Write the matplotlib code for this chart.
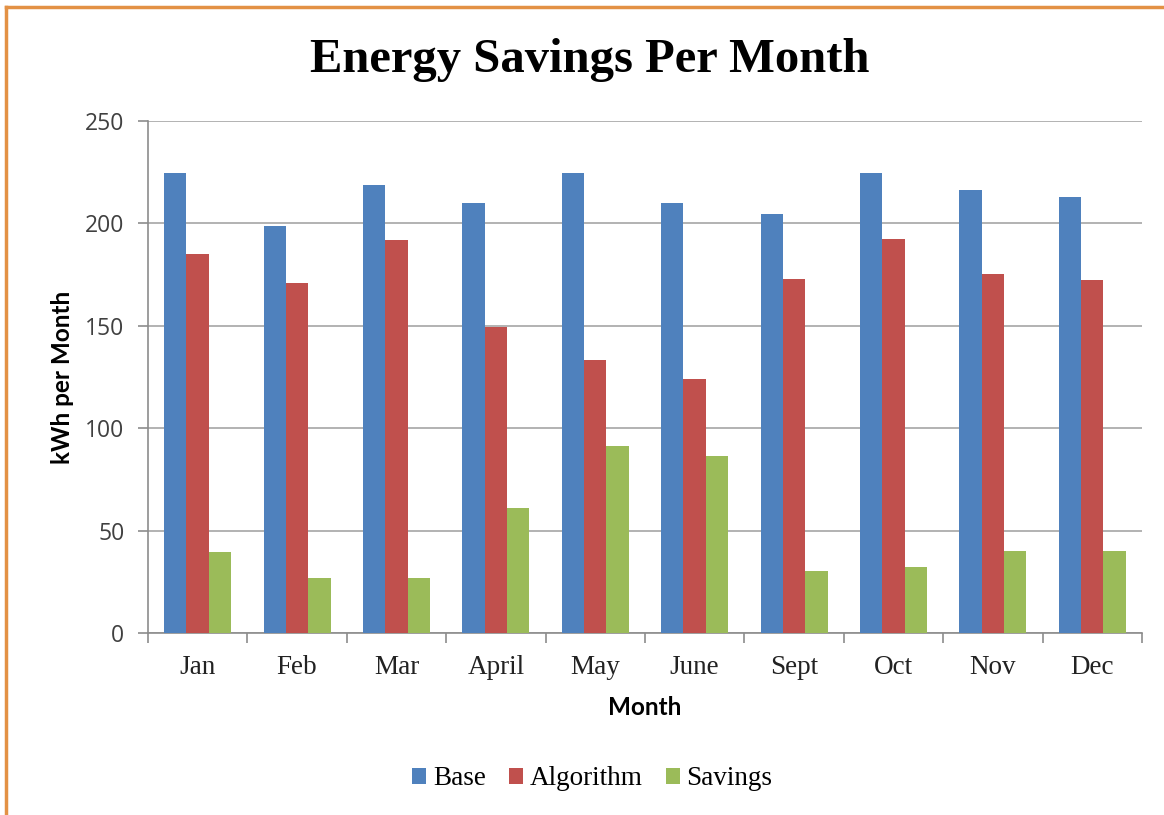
import numpy as np
import matplotlib.pyplot as plt
from matplotlib.lines import Line2D

# --- Data ---
months = ['Jan', 'Feb', 'Mar', 'April', 'May', 'June', 'Sept', 'Oct', 'Nov', 'Dec']
base = [224.5, 198.5, 219, 210, 224.5, 210, 204.5, 224.5, 216.5, 213]
algorithm = [185, 171, 192, 149.5, 133.5, 124, 173, 192.5, 175.5, 172.5]
savings = [39.5, 27, 27, 61, 91.5, 86.5, 30.5, 32, 40, 40]

series = [('Base', base, '#4F81BD'),
          ('Algorithm', algorithm, '#C0504D'),
          ('Savings', savings, '#9BBB59')]

fig = plt.figure(figsize=(11.64, 8.15), dpi=100)
ax = fig.add_axes([0.1271, 0.2233, 0.8540, 0.6282])

x = np.arange(len(months))
w = 0.225
for i, (name, vals, col) in enumerate(series):
    ax.bar(x + (i - 1) * w, vals, w, color=col, label=name, zorder=3)

ax.set_xlim(-0.5, len(months) - 0.5)
ax.set_ylim(0, 250)
ax.set_yticks(np.arange(0, 251, 50))
ax.grid(axis='y', color='#A6A6A6', linewidth=1.2, zorder=0)

# month labels centred, tick marks on the category boundaries
ax.set_xticks(x)
ax.set_xticklabels(months, family='Liberation Serif', fontsize=19.5, color='#222222')
ax.set_xticks(np.arange(-0.5, len(months)), minor=True)
ax.tick_params(axis='x', which='major', length=0, pad=16)
ax.tick_params(axis='x', which='minor', length=7, color='#8C8C8C', width=1.2)
ax.tick_params(axis='y', length=7, color='#8C8C8C', width=1.2, pad=10,
               labelsize=16.5, labelcolor='#404040')
for lab in ax.get_yticklabels():
    lab.set_family('Open Sans')

for side in ['top', 'right']:
    ax.spines[side].set_visible(False)
for side in ['left', 'bottom']:
    ax.spines[side].set_color('#8C8C8C')
    ax.spines[side].set_linewidth(1.2)

ax.set_ylabel('kWh per Month', family='Lato', fontweight='bold', fontsize=17.5, labelpad=8)
ax.set_xlabel('Month', family='Lato', fontweight='bold', fontsize=17.5, labelpad=11)

fig.text(0.507, 0.926, 'Energy Savings Per Month', ha='center', va='center',
         family='Liberation Serif', fontweight='bold', fontsize=35)

ax.legend(loc='center', bbox_to_anchor=(0.447, -0.285), ncol=3, frameon=False,
          prop={'family': 'Liberation Serif', 'size': 19.5},
          handlelength=0.52, handleheight=0.52, handletextpad=0.25, columnspacing=0.85)

# orange frame along top and left edges
border = '#E39145'
fig.add_artist(Line2D([0.005, 1.0], [0.9915, 0.9915], color=border, linewidth=2.5,
                      transform=fig.transFigure))
fig.add_artist(Line2D([0.005, 0.005], [0.0, 0.9915], color=border, linewidth=2.5,
                      transform=fig.transFigure))

fig.savefig('out.png', dpi=100)
